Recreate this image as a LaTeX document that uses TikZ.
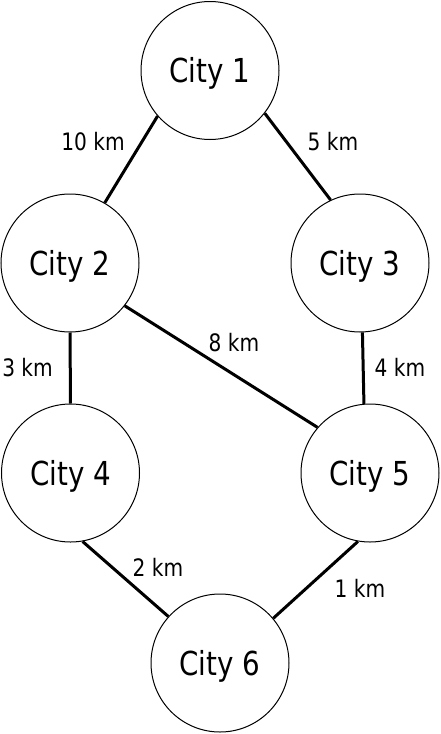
\documentclass[tikz,border=0pt]{standalone}
\usepackage{fontspec}
\setmainfont{DejaVu Sans}[FakeStretch=0.84]
\begin{document}
\begin{tikzpicture}[x=1pt,y=-1pt,
  city/.style={circle,draw,line width=1pt,minimum size=138pt,inner sep=0pt,
    font=\fontsize{33}{33}\selectfont,text height=24pt,text depth=0pt},
  road/.style={line width=3pt},
  dist/.style={inner sep=0pt,font=\fontsize{24}{24}\selectfont,text height=17.5pt,text depth=0pt}]
\useasboundingbox (0,0) rectangle (440,734);
\node[city] (c1) at (210,70.5) {City 1};
\node[city] (c2) at (70,263) {City 2};
\node[city] (c3) at (360,263) {City 3};
\node[city] (c4) at (70.5,473) {City 4};
\node[city] (c5) at (370,473) {City 5};
\node[city] (c6) at (220,663) {City 6};
\draw[road] (c1.221.7) -- (c2.60.9);
\draw[road] (c1.-38.2) -- (c3.115.1);
\draw[road] (c2.-90.8) -- (c4.90);
\draw[road] (c2.-38.7) -- (c5.139.8);
\draw[road] (c3.-88.4) -- (c5.95);
\draw[road] (c4.-80.4) -- (c6.138.5);
\draw[road] (c5.-100.5) -- (c6.40.3);
\node[dist] (l12) at (93,142) {10 km};
\node[dist] (l13) at (333,142) {5 km};
\node[dist,anchor=east] (l24) at (53,368) {3 km};
\node[dist] (l25) at (234,343) {8 km};
\node[dist] (l35) at (400,368) {4 km};
\node[dist] (l46) at (158,568) {2 km};
\node[dist] (l56) at (360,589) {1 km};
\end{tikzpicture}
\end{document}
